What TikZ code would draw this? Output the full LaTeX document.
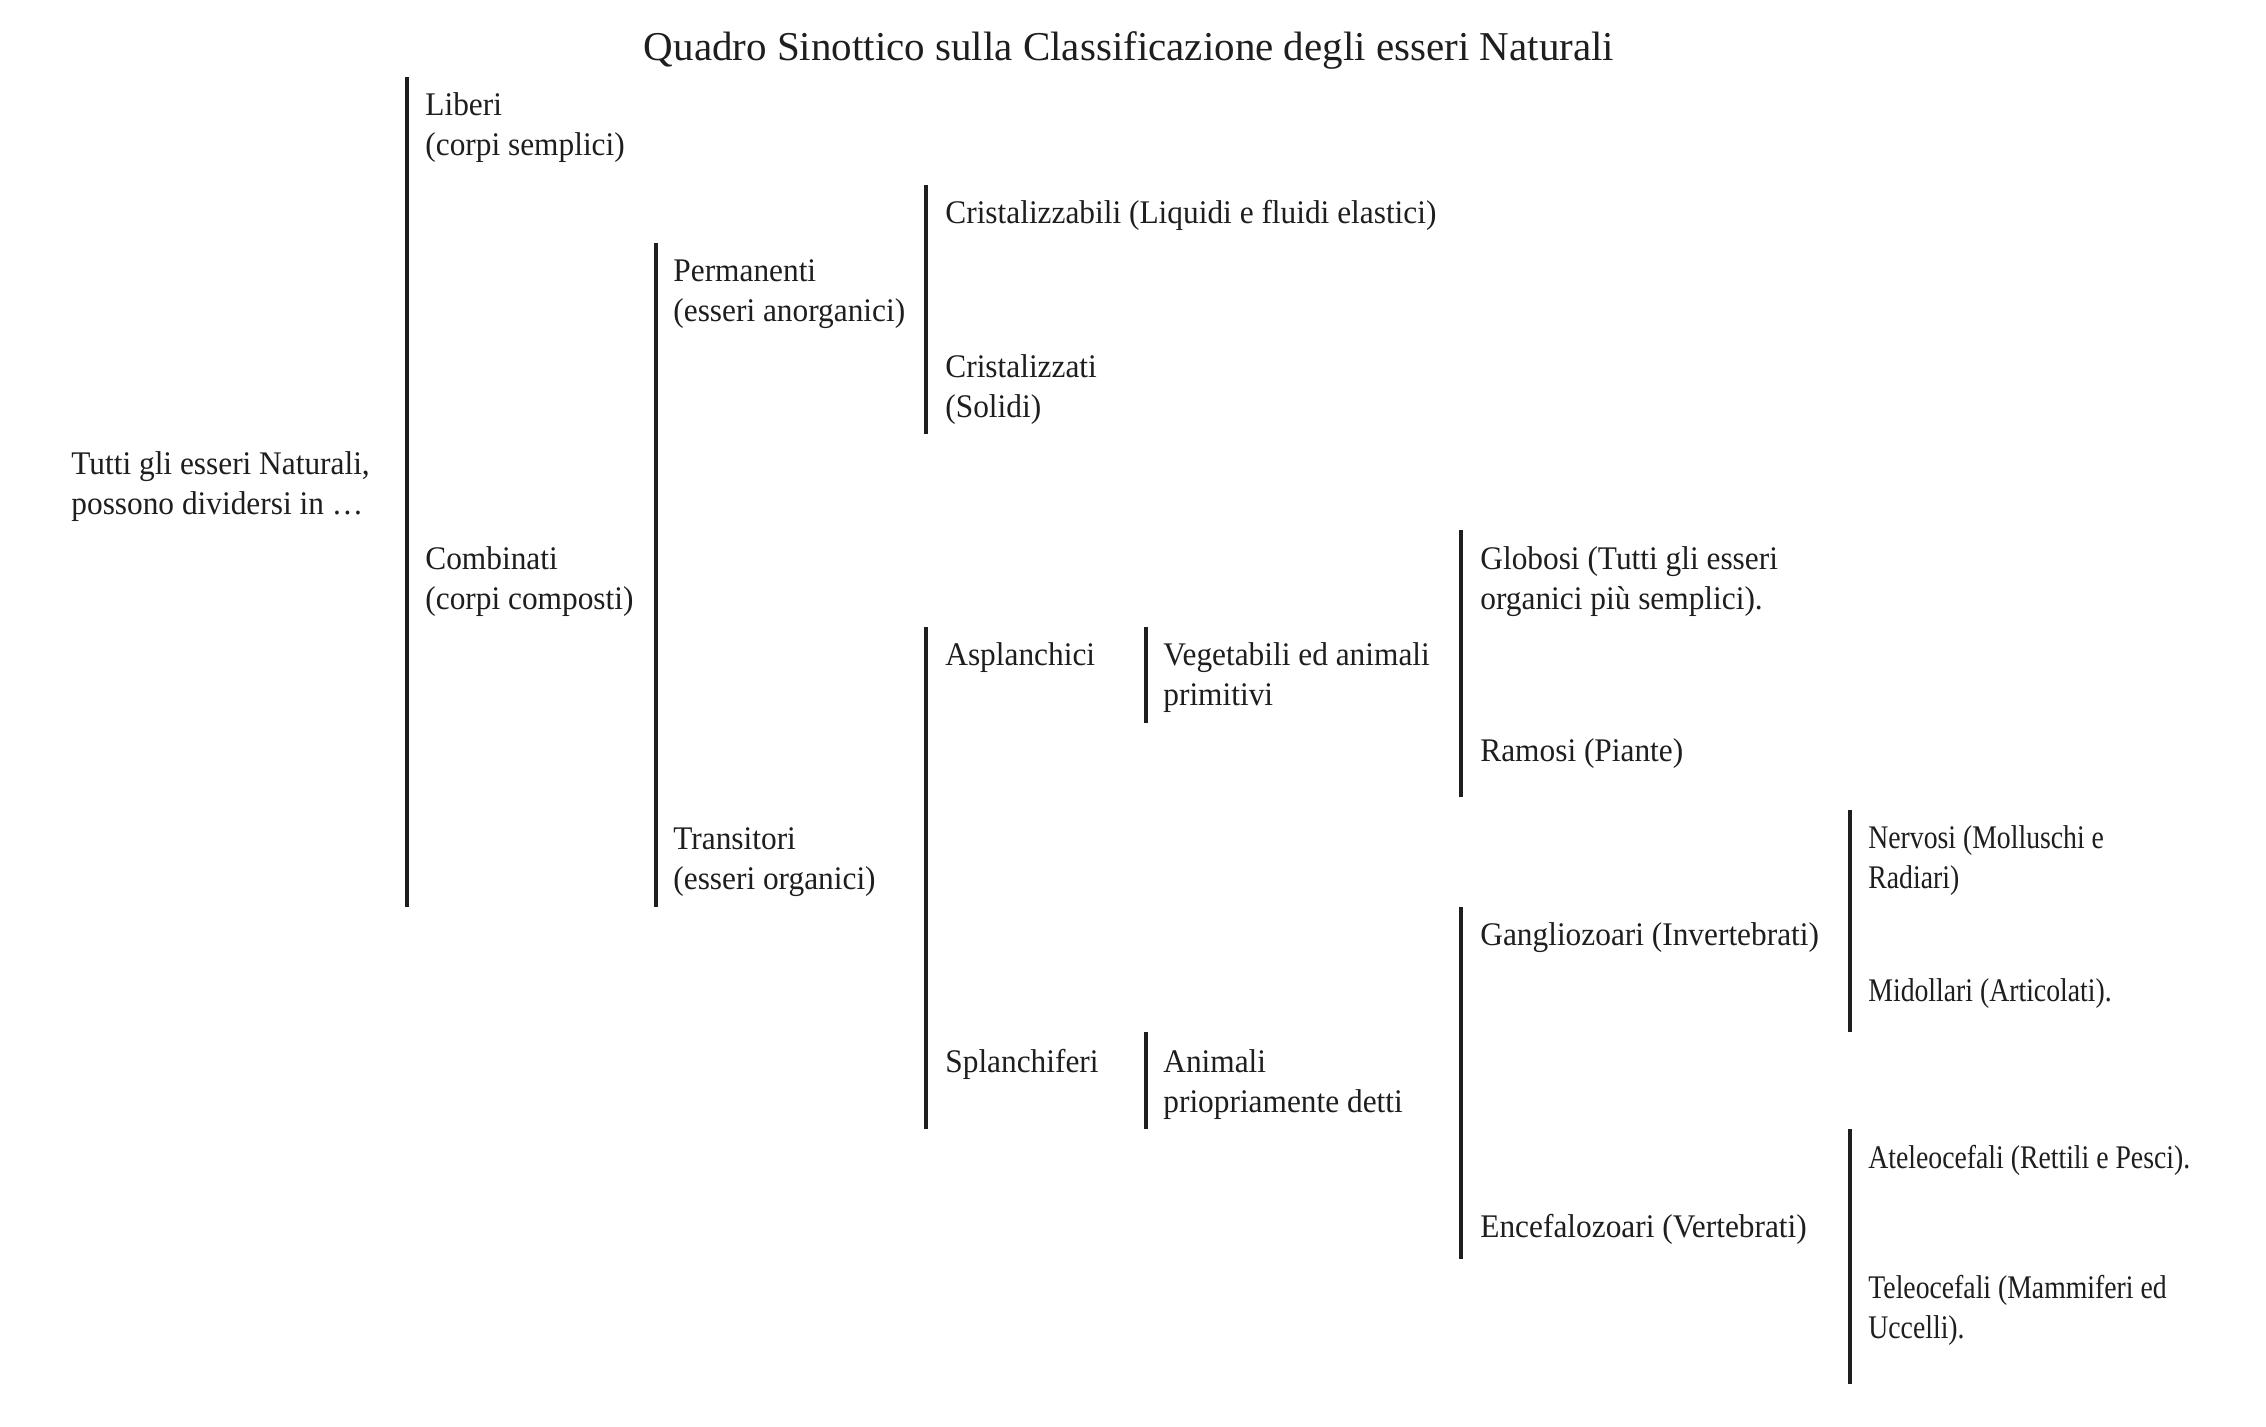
\documentclass[tikz,border=0pt]{standalone}
\usepackage{fontspec}
\setmainfont{Liberation Serif}[FakeStretch=0.95]
\newfontfamily\condfont{Liberation Serif}[FakeStretch=0.84]
\newfontfamily\titlefont{Liberation Serif}
\definecolor{ink}{HTML}{1E1E1E}
\tikzset{
  bar/.style={draw=ink, line width=2pt},
  lbl/.style={inner sep=0pt, anchor=base west, text=ink, font=\fontsize{16.5}{20}\selectfont},
  lblc/.style={lbl, font=\condfont\fontsize{16.5}{20}\selectfont},
  ttl/.style={inner sep=0pt, anchor=base, text=ink, font=\titlefont\fontsize{20.5}{24}\selectfont},
}
\newcommand{\twol}[2]{\begin{tabular}[t]{@{}l@{}}#1\\#2\end{tabular}}
\begin{document}
\begin{tikzpicture}[x=0.5pt,y=-0.5pt]
\useasboundingbox[fill=white] (0,0) rectangle (2266,1426);
% title
\node[ttl] (title) at (1129,60) {Quadro Sinottico sulla Classificazione degli esseri Naturali};
% bars
\draw[bar] (407,77) -- (407,907);
\draw[bar] (656,243) -- (656,907);
\draw[bar] (926,185) -- (926,434);
\draw[bar] (926,627) -- (926,1129);
\draw[bar] (1146,627) -- (1146,723);
\draw[bar] (1146,1032) -- (1146,1129);
\draw[bar] (1461,530) -- (1461,797);
\draw[bar] (1461,907) -- (1461,1259);
\draw[bar] (1850,810) -- (1850,1032);
\draw[bar] (1850,1129) -- (1850,1384);
% labels
\node[lbl] (tutti) at (71,474) {\twol{Tutti gli esseri Naturali,}{possono dividersi in …}};
\node[lbl] (liberi) at (425,115) {\twol{Liberi}{(corpi semplici)}};
\node[lbl] (combinati) at (425,569) {\twol{Combinati}{(corpi composti)}};
\node[lbl] (permanenti) at (673,281) {\twol{Permanenti}{(esseri anorganici)}};
\node[lbl] (transitori) at (673,849) {\twol{Transitori}{(esseri organici)}};
\node[lbl] (cristabili) at (945,223) {Cristalizzabili (Liquidi e fluidi elastici)};
\node[lbl] (cristati) at (945,377) {\twol{Cristalizzati}{(Solidi)}};
\node[lbl] (asplan) at (945,665) {Asplanchici};
\node[lbl] (splan) at (945,1072) {Splanchiferi};
\node[lbl] (veget) at (1163,665) {\twol{Vegetabili ed animali}{primitivi}};
\node[lbl] (animali) at (1163,1072) {\twol{Animali}{priopriamente detti}};
\node[lbl] (globosi) at (1480,569) {\twol{Globosi (Tutti gli esseri}{organici più semplici).}};
\node[lbl] (ramosi) at (1480,761) {Ramosi (Piante)};
\node[lbl] (ganglio) at (1480,945) {Gangliozoari (Invertebrati)};
\node[lbl] (encef) at (1480,1237) {Encefalozoari (Vertebrati)};
\node[lblc] (nervosi) at (1868,848) {\twol{Nervosi (Molluschi e}{Radiari)}};
\node[lblc] (midoll) at (1868,1001) {Midollari (Articolati).};
\node[lblc] (atel) at (1868,1168) {Ateleocefali (Rettili e Pesci).};
\node[lblc] (telo) at (1868,1298) {\twol{Teleocefali (Mammiferi ed}{Uccelli).}};
\end{tikzpicture}
\end{document}
